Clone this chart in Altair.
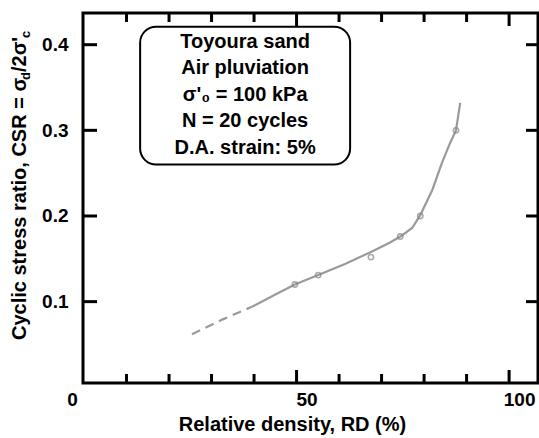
import altair as alt
import pandas as pd

# Measured specimens (relative density %, cyclic stress ratio)
rd_points = [49.6, 55.1, 67.5, 74.4, 79.1, 87.5]
csr_points = [0.120, 0.131, 0.152, 0.176, 0.200, 0.300]

# Trend curve: extrapolated part (dashed) and fitted part (solid)
rd_trend_dash = [25.4, 32.5, 39.5]
csr_trend_dash = [0.062, 0.079, 0.094]
rd_trend = [39.5, 44.9, 49.6, 55.1, 61.4, 67.5, 72.0, 74.4, 77.2, 79.1,
            81.9, 84.2, 86.1, 87.5, 88.5]
csr_trend = [0.094, 0.108, 0.120, 0.131, 0.144, 0.158, 0.169, 0.176, 0.186,
             0.201, 0.230, 0.262, 0.285, 0.300, 0.332]

# Axis ticks and labels
x_labels = [0, 50, 100]
x_ticks_minor = [10, 20, 30, 40, 60, 70, 80, 90]
x_ticks_major = [50, 100]
y_ticks = [0.1, 0.2, 0.3, 0.4]

note_lines = ["Toyoura sand", "Air pluviation", "σ'₀ = 100 kPa",
              "N = 20 cycles", "D.A. strain: 5%"]

FONT = "Liberation Sans"
W, H = 455, 370
GREY = "#9a9a9a"

X_MIN, X_MAX = -0.24, 106.8
Y_MIN, Y_MAX = 0.005, 0.437
PX_X = (X_MAX - X_MIN) / W   # data units per pixel
PX_Y = (Y_MAX - Y_MIN) / H
xs = alt.Scale(domain=[X_MIN, X_MAX], nice=False, zero=False)
ys = alt.Scale(domain=[Y_MIN, Y_MAX], nice=False, zero=False)

x_axis = alt.Axis(
    values=x_labels, ticks=False, domain=False, grid=False,
    labelFont=FONT, labelFontSize=19, labelFontWeight="bold", labelColor="black",
    labelPadding=7, labelFlush=False, labelOverlap=False, labelBound=False,
    labelOffset={"condition": {"test": "datum.value === 0", "value": -12}, "value": 10},
    title="Relative density, RD (%)", titleFont=FONT, titleFontSize=20,
    titleFontWeight="bold", titleColor="black", titleX=209, titleY=31,
    titleBaseline="top",
)
y_axis = alt.Axis(
    values=y_ticks, format=".1f", ticks=False, domain=False, grid=False,
    labelFont=FONT, labelFontSize=19, labelFontWeight="bold", labelColor="black",
    labelPadding=15, labelFlush=False, labelOverlap=False, title=None,
)

X = lambda f: alt.X(f, type="quantitative", scale=xs, axis=x_axis)
Y = lambda f: alt.Y(f, type="quantitative", scale=ys, axis=y_axis)

pts = pd.DataFrame({"rd": rd_points, "csr": csr_points})
dash = pd.DataFrame({"rd": rd_trend_dash, "csr": csr_trend_dash})
solid = pd.DataFrame({"rd": rd_trend, "csr": csr_trend})

# Inward tick marks on all four sides, as one table of segments in data units
segs = []
for v, ln in [(t, 9) for t in x_ticks_minor] + [(t, 13) for t in x_ticks_major]:
    segs.append((v, v, Y_MIN, Y_MIN + ln * PX_Y))      # bottom edge
    segs.append((v, v, Y_MAX, Y_MAX - ln * PX_Y))      # top edge
for v in y_ticks:
    segs.append((X_MIN, X_MIN + 14 * PX_X, v, v))      # left edge
    segs.append((X_MAX, X_MAX - 12 * PX_X, v, v))      # right edge
tick_df = pd.DataFrame(segs, columns=["tx0", "tx1", "ty0", "ty1"])

ticks = alt.Chart(tick_df).mark_rule(color="black", strokeWidth=3).encode(
    x=X("tx0"), x2="tx1", y=Y("ty0"), y2="ty1")

# Annotation box
box = alt.Chart().mark_rect(
    cornerRadius=16, fill="white", stroke="black", strokeWidth=2
).encode(
    x=alt.datum(13.2, scale=xs, axis=x_axis), x2=alt.datum(62.6),
    y=alt.datum(0.421, scale=ys, axis=y_axis), y2=alt.datum(0.260),
)
note = alt.Chart().mark_text(
    font=FONT, fontSize=20, fontWeight="bold", color="black",
    lineHeight=26.5, align="center", baseline="middle",
).encode(
    x=alt.datum(37.9, scale=xs, axis=x_axis),
    y=alt.datum(0.4035, scale=ys, axis=y_axis),
    text=alt.value(note_lines),
)

line_dash = alt.Chart(dash).mark_line(
    color=GREY, strokeWidth=2.2, strokeDash=[9, 6]
).encode(x=X("rd"), y=Y("csr"))
line_solid = alt.Chart(solid).mark_line(
    color=GREY, strokeWidth=2.2
).encode(x=X("rd"), y=Y("csr"))
points = alt.Chart(pts).mark_point(
    shape="circle", filled=False, size=28, stroke="#888888", strokeWidth=1.6
).encode(x=X("rd"), y=Y("csr"))

# Vertical axis title with subscripts, read bottom to top
ttl = dict(font=FONT, fontWeight="bold", color="black", angle=270,
           align="left", baseline="middle")
t_main = alt.Chart().mark_text(fontSize=20, **ttl).encode(
    x=alt.value(-63), y=alt.value(327),
    text=alt.value("Cyclic stress ratio, CSR = σ"))
t_d = alt.Chart().mark_text(fontSize=13, **ttl).encode(
    x=alt.value(-57), y=alt.value(67), text=alt.value("d"))
t_mid = alt.Chart().mark_text(fontSize=20, **ttl).encode(
    x=alt.value(-63), y=alt.value(59), text=alt.value("/2σ'"))
t_c = alt.Chart().mark_text(fontSize=13, **ttl).encode(
    x=alt.value(-57), y=alt.value(25), text=alt.value("c"))

chart = alt.layer(
    box, note, line_dash, line_solid, points, ticks,
    t_main, t_d, t_mid, t_c,
).properties(
    width=W, height=H,
    autosize=alt.AutoSizeParams(type="none"),
    padding={"left": 83, "top": 13, "right": 1, "bottom": 55},
    background="white",
).configure_view(
    stroke="black", strokeWidth=3
)

chart.save("out.html", embed_options={"renderer": "svg", "actions": False})
